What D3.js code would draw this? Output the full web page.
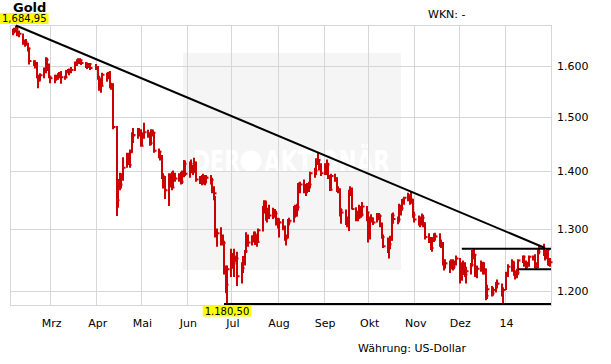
<!DOCTYPE html>
<html>
<head>
<meta charset="utf-8">
<script src="https://cdn.jsdelivr.net/npm/d3@7"></script>
<style>
  body { margin: 0; background: #fff; }
  text { font-family: "DejaVu Sans", Verdana, sans-serif; }
</style>
</head>
<body>
<svg id="chart" width="611" height="364"></svg>
<script>
// trading days Feb 4 2013 .. Jan 31 2014 (weekdays without the closed days)
const firstDay = new Date(2013, 1, 4);
const lastDay = new Date(2014, 0, 31);
const closedDays = ["2013-03-29", "2013-12-25", "2014-01-01"];

// one row per week, Mon..Fri
const highs = [
  1678,1680,1684.95,1682,1674, 1668,1655,1656,1648,1638, 1612,1612,1608,1582,1585, 1597,1618,1617,1605,1580,
  1582,1582,1585,1588,1590, 1580,1592,1594,1595,1598, 1609,1614,1616,1616,1612, 1608,1607,1606,1604,
  1604,1600,1580,1575,1586, 1586,1588,1590,1566,1565, 1482,1385,1396,1395,1424, 1432,1432,1438,1470,1478,
  1478,1478,1476,1470,1488, 1475,1470,1476,1474,1470, 1440,1436,1428,1395,1390, 1395,1395,1398,1400,1396,
  1395,1398,1400,1419,1418, 1416,1420,1410,1423,1416, 1390,1392,1394,1392,1392, 1392,1387,1372,1355,1300,
  1302,1290,1280,1240,1240, 1267,1260,1267,1256,1262, 1245,1255,1265,1294,1290, 1289,1295,1295,1290,1300,
  1338,1348,1346,1335,1340, 1335,1333,1330,1318,1317, 1316,1305,1290,1316,1318, 1338,1340,1342,1378,1380,
  1384,1376,1378,1380,1398, 1405,1422,1433,1420,1413, 1413,1420,1414,1392,1394, 1394,1388,1372,1368,1334,
  1332,1320,1366,1372,1370, 1336,1330,1340,1338,1345, 1338,1328,1320,1324,1318, 1326,1326,1324,1310,1290,
  1285,1282,1288,1325,1327, 1320,1342,1340,1350,1354, 1361,1358,1362,1350,1328, 1322,1320,1325,1323,1310,
  1292,1286,1286,1292,1293, 1292,1282,1278,1248,1250, 1248,1250,1250,1248,1256, 1252,1245,1248,1245,1238,
  1244,1265,1268,1258,1240, 1248,1246,1245,1235,1210, 1208,1206,1214,1218, 1212,1206,1230,1242,
  1250,1246,1232,1235,1250, 1256,1256,1248,1246,1256, 1256,1258,1245,1266,1272, 1275,1265,1268,1268,1252
];
const lows = [
  1664,1668,1670,1662,1660, 1644,1640,1642,1630,1603, 1600,1595,1575,1555,1570, 1575,1585,1590,1575,1565,
  1565,1570,1572,1575,1564, 1572,1575,1585,1581,1585, 1590,1600,1604,1604,1602, 1596,1594,1596,1592,
  1592,1572,1550,1546,1558, 1568,1574,1555,1552,1476, 1321,1335,1365,1368,1382, 1405,1410,1405,1432,1450,
  1458,1462,1443,1445,1458, 1460,1445,1446,1462,1432, 1422,1418,1385,1368,1350, 1338,1370,1365,1370,1380,
  1380,1375,1376,1388,1390, 1387,1395,1392,1396,1380, 1376,1374,1375,1374,1377, 1375,1360,1348,1285,1270,
  1272,1272,1226,1197,1180.5, 1222,1235,1222,1245,1208, 1212,1228,1240,1260,1270, 1272,1277,1273,1270,1276,
  1295,1325,1313,1310,1316, 1316,1318,1305,1300,1285, 1297,1280,1272,1284,1305, 1310,1318,1320,1330,1360,
  1360,1355,1360,1362,1368, 1387,1392,1410,1400,1390, 1392,1392,1385,1364,1365, 1380,1362,1360,1320,1308,
  1306,1302,1296,1355,1332, 1312,1312,1316,1318,1320, 1312,1277,1282,1310,1306, 1310,1314,1302,1283,1268,
  1260,1251,1266,1280,1308, 1307,1310,1322,1330,1340, 1346,1340,1342,1318,1310, 1305,1302,1305,1302,1282,
  1276,1265,1262,1278,1280, 1270,1268,1240,1232,1235, 1228,1234,1232,1234,1240, 1212,1216,1225,1222,1212,
  1226,1238,1250,1222,1220, 1230,1226,1226,1186,1188, 1192,1193,1198,1204, 1192,1182,1202,1222,
  1230,1224,1218,1220,1225, 1244,1238,1234,1236,1238, 1248,1236,1234,1236,1258, 1255,1248,1250,1240,1238
];
const closes = [
  1674,1676,1678,1670,1667, 1649,1649,1645,1636,1610, 1606,1604,1578,1570,1581, 1590,1613,1596,1578,1575,
  1574,1575,1583,1583,1577, 1577,1590,1588,1590,1592, 1604,1610,1607,1612,1606, 1600,1598,1604,1596,
  1598,1576,1555,1560,1582, 1575,1586,1558,1562,1480, 1348,1368,1375,1390,1405, 1425,1410,1433,1463,1465,
  1470,1472,1445,1467,1470, 1468,1450,1474,1469,1436, 1434,1425,1390,1375,1365, 1385,1377,1370,1392,1386,
  1390,1380,1392,1412,1394, 1412,1398,1398,1414,1384, 1384,1378,1390,1388,1387, 1383,1367,1360,1290,1292,
  1285,1276,1230,1210,1234, 1255,1243,1251,1251,1223, 1236,1246,1263,1278,1277, 1283,1291,1277,1278,1297,
  1335,1346,1320,1332,1322, 1329,1325,1312,1311,1310, 1302,1283,1285,1310,1313, 1334,1322,1336,1377,1375,
  1366,1372,1371,1375,1395, 1400,1420,1419,1408,1395, 1411,1411,1389,1366,1390, 1386,1364,1367,1331,1327,
  1317,1309,1366,1367,1333, 1322,1318,1336,1323,1337, 1327,1286,1316,1317,1310, 1324,1321,1307,1286,1271,
  1275,1274,1282,1322,1316, 1315,1336,1334,1349,1352, 1355,1345,1349,1323,1315, 1316,1308,1318,1309,1286,
  1282,1268,1282,1288,1287, 1274,1274,1243,1244,1243, 1241,1242,1238,1245,1251, 1221,1243,1242,1226,1231,
  1241,1261,1257,1225,1235, 1244,1230,1234,1193,1203, 1197,1202,1211,1212, 1202,1202,1226,1238,
  1246,1230,1226,1229,1248, 1254,1245,1240,1242,1254, 1254,1242,1238,1262,1270, 1263,1255,1265,1241,1245
];

const yTicks = [1200, 1300, 1400, 1500, 1600];
const monthLabels = ["Mrz", "Apr", "Mai", "Jun", "Jul", "Aug", "Sep", "Okt", "Nov", "Dez", "14"];

// drawn lines: [from date, from value, to date, to value]
const trendLines = [
  [new Date(2013, 1, 6), 1684.95, new Date(2014, 0, 28), 1268],
  [new Date(2013, 11, 3), 1267, new Date(2014, 1, 1), 1267],
  [new Date(2014, 0, 10), 1234, new Date(2014, 1, 1), 1234],
  [new Date(2013, 5, 26), 1180.5, new Date(2014, 1, 1), 1180.5]
];
const markers = [
  {date: new Date(2013, 1, 6), value: 1684.95, text: "1,684,95", pos: "above"},
  {date: new Date(2013, 5, 28), value: 1180.5, text: "1.180,50", pos: "below"}
];

const plotLeft = 10, plotRight = 551, plotTop = 25, plotBottom = 305;
const red = "#cc0000", gridColor = "#d6d6d6";

const fmtDay = d3.timeFormat("%Y-%m-%d");
const dates = d3.timeDay.range(firstDay, d3.timeDay.offset(lastDay, 1))
  .filter(d => d.getDay() > 0 && d.getDay() < 6 && !closedDays.includes(fmtDay(d)));
const bars = dates.map((d, i) => ({date: d, high: highs[i], low: lows[i], close: closes[i]}))
  .filter(d => d.high != null);

const de = d3.formatLocale({decimal: ",", thousands: ".", grouping: [3], currency: ["", " €"]});

const x = d3.scaleTime()
  .domain([new Date(2013, 1, 2), new Date(2014, 1, 1)])
  .range([plotLeft, plotRight]);
const y = d3.scaleLog()
  .domain([1179, 1686])
  .range([plotBottom, plotTop]);

const months = d3.timeMonth.range(new Date(2013, 2, 1), new Date(2014, 1, 1));

const svg = d3.select("#chart");

// watermark
svg.append("rect")
  .attr("x", 183).attr("y", 53).attr("width", 218).attr("height", 217)
  .attr("fill", "#f5f5f5");
const wm = svg.append("g").attr("fill", "#fff").attr("font-weight", "bold").attr("font-size", 30);
wm.append("text").attr("x", 193).attr("y", 172).attr("textLength", 47)
  .attr("lengthAdjust", "spacingAndGlyphs").text("DER");
wm.append("circle").attr("cx", 251).attr("cy", 161).attr("r", 10.5);
wm.append("text").attr("x", 264).attr("y", 172).attr("textLength", 126)
  .attr("lengthAdjust", "spacingAndGlyphs").text("AKTIONÄR");

// grid + frame
const grid = svg.append("g").attr("stroke", gridColor).attr("shape-rendering", "crispEdges");
grid.selectAll("line.v").data(months).join("line")
  .attr("class", "v")
  .attr("x1", d => Math.round(x(d)) + 0.5).attr("x2", d => Math.round(x(d)) + 0.5)
  .attr("y1", plotTop).attr("y2", plotBottom);
grid.selectAll("line.h").data(yTicks).join("line")
  .attr("class", "h")
  .attr("x1", plotLeft).attr("x2", plotRight)
  .attr("y1", d => Math.round(y(d)) + 0.5).attr("y2", d => Math.round(y(d)) + 0.5);
grid.append("rect")
  .attr("x", plotLeft + 0.5).attr("y", plotTop + 0.5)
  .attr("width", plotRight - plotLeft).attr("height", plotBottom - plotTop)
  .attr("fill", "none");

// OHLC-style bars (high-low with close tick)
svg.append("g")
  .attr("stroke", red).attr("stroke-width", 2).attr("fill", "none")
  .selectAll("path").data(bars).join("path")
  .attr("d", d => {
    const cx = Math.round(x(d.date));
    return "M" + cx + "," + y(d.high) + "V" + y(d.low) +
      "M" + cx + "," + y(d.close) + "H" + (cx + 2.5);
  });

// trend / support lines
svg.append("g")
  .attr("stroke", "#000").attr("stroke-width", 2)
  .selectAll("line").data(trendLines).join("line")
  .attr("x1", d => x(d[0])).attr("y1", d => y(d[1]))
  .attr("x2", d => x(d[2])).attr("y2", d => y(d[3]));

// axes
svg.append("g")
  .attr("transform", "translate(0," + plotBottom + ")")
  .call(d3.axisBottom(x).tickValues(months).tickSize(0).tickPadding(14)
    .tickFormat((d, i) => monthLabels[i]))
  .call(g => g.select(".domain").remove())
  .call(g => g.selectAll("text").attr("x", 1).attr("fill", "#000")
    .attr("font-size", 11).attr("font-family", "DejaVu Sans, Verdana, sans-serif"));

svg.append("g")
  .attr("transform", "translate(" + plotRight + ",0)")
  .call(d3.axisRight(y).tickValues(yTicks).tickSize(0).tickPadding(6)
    .tickFormat(de.format(",.0f")))
  .call(g => g.select(".domain").remove())
  .call(g => g.selectAll("text").attr("fill", "#000")
    .attr("font-size", 11).attr("font-family", "DejaVu Sans, Verdana, sans-serif"));

// titles
svg.append("text").attr("x", 13).attr("y", 12)
  .attr("font-size", 13).attr("font-weight", "bold").text("Gold");
svg.append("text").attr("x", 428).attr("y", 18)
  .attr("font-size", 11).text("WKN: -");
svg.append("text").attr("x", 358).attr("y", 352)
  .attr("font-size", 11).text("Währung: US-Dollar");

// yellow high / low markers
markers.forEach(m => {
  const g = svg.append("g");
  const t = g.append("text").attr("font-size", 10).text(m.text);
  const w = t.node().getComputedTextLength() + 4;
  const bx = Math.max(0, x(m.date) - w / 2);
  const by = m.pos === "above" ? y(m.value) - 12.5 : y(m.value) + 1.5;
  g.insert("rect", "text")
    .attr("x", bx).attr("y", by).attr("width", w).attr("height", 11)
    .attr("fill", "#ffff00");
  t.attr("x", bx + 2).attr("y", by + 9.5);
});
</script>
</body>
</html>
